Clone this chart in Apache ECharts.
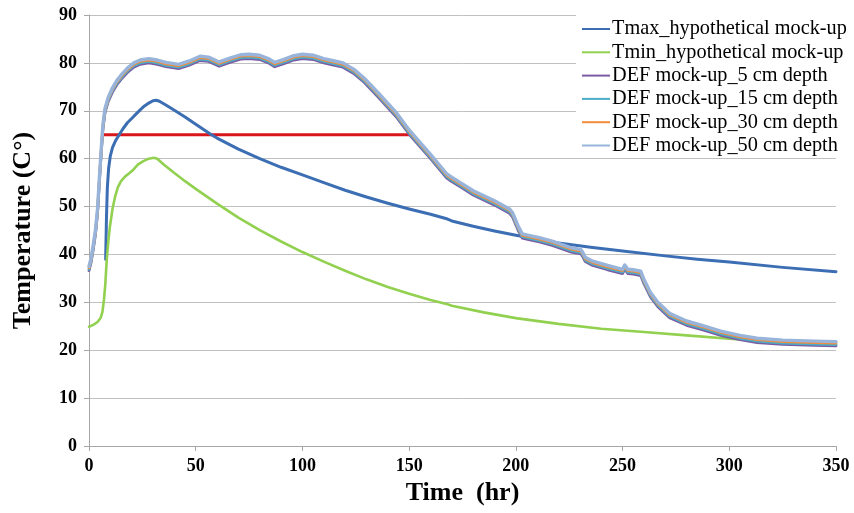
<!DOCTYPE html>
<html>
<head>
<meta charset="utf-8">
<script src="https://cdn.jsdelivr.net/npm/echarts@6/dist/echarts.min.js"></script>
<style>html,body{margin:0;padding:0;background:#fff}#c{width:854px;height:513px}</style>
</head>
<body>
<div id="c"></div>
<script>
// ---- data ----
const xTicks = [0, 50, 100, 150, 200, 250, 300, 350];
const yTicks = [0, 10, 20, 30, 40, 50, 60, 70, 80, 90];

const tmaxTime = [7.8,8.2,8.6,9.2,10,11,12.5,14,16,18,20,22,24,26,28,30,31.5,33,36,40,45,50,57,60,70,80,90,100,110,120,130,140,150,160,168,170,180,190,200,210,220,235,250,270,285,300,325,350];
const tmaxVal  = [39,48,54,58,60.6,62.3,63.8,64.9,66.3,67.5,68.4,69.3,70.2,71,71.6,72.1,72.2,72,71.2,70.1,68.7,67.2,65.1,64.3,62,60,58.2,56.6,55,53.4,52,50.7,49.5,48.4,47.4,47,45.9,44.9,44,43.2,42.4,41.5,40.7,39.7,39,38.4,37.3,36.4];

const tminTime = [0,2,4,5.5,6.3,7,7.6,8.3,9,9.8,11,12.2,13.5,15,17,19,21,23,25.5,28,30.5,32,35,40,45,50,60,70,80,90,100,110,120,130,140,150,160,168,170,185,200,220,240,260,280,300,325,350];
const tminVal  = [24.9,25.3,25.9,26.8,28,30.5,33.5,38.8,42.5,45.8,49.5,52,54,55.3,56.3,57,57.8,58.8,59.5,60,60.2,60,58.8,57,55.3,53.7,50.6,47.7,45.1,42.7,40.5,38.5,36.6,34.8,33.2,31.8,30.5,29.6,29.3,27.9,26.7,25.5,24.5,23.8,23.1,22.4,21.7,21.1];

const defTime = [0,1,2,3,4,5,5.8,6.5,7.5,9,11,13,15.5,18,21,24,28,32,36,42,47,52,56,61,66,71,75,80,84,87,91,96,100,105,110,114,119,124,129,136,144,150,160,167.5,169,174,180,190,197,198.5,201,203,206,211,217,222,226,230.5,231.5,232.5,236,243,250,251,252.5,255,258.5,260,263,266.5,272,280,288,296,305,313,325,340,350];
const def5  = [36.6,38.4,41.1,44.1,48.6,56.1,61.6,66.1,69.6,71.9,73.9,75.4,76.8,78,79.1,79.7,80,79.7,79.2,78.8,79.5,80.5,80.3,79.3,80.1,80.8,80.9,80.7,80,79.2,79.8,80.6,80.9,80.7,80,79.6,79.1,77.8,75.9,72.6,68.7,65.1,60,56,55.5,54.1,52.4,50.3,48.6,47.8,45.1,43.4,43.1,42.6,41.9,41.1,40.5,40.1,39.4,38.5,37.7,36.8,36,36.9,36,35.9,35.6,33.9,31.2,29.1,26.8,25.2,24.2,23.1,22.2,21.6,21.2,21,20.9];
const def15 = [36.9,38.7,41.4,44.4,48.9,56.4,61.9,66.4,69.9,72.2,74.2,75.7,77.1,78.3,79.4,80,80.3,80,79.5,79.1,79.8,80.8,80.6,79.6,80.4,81.1,81.2,81,80.3,79.5,80.1,80.9,81.2,81,80.3,79.9,79.4,78.1,76.2,72.9,69,65.4,60.3,56.3,55.8,54.4,52.7,50.6,48.9,48.1,45.4,43.7,43.4,42.9,42.2,41.4,40.8,40.4,39.7,38.8,38,37.1,36.3,37.2,36.3,36.2,35.9,34.2,31.5,29.4,27.1,25.5,24.5,23.4,22.5,21.9,21.5,21.3,21.2];
const def30 = [37.2,39,41.7,44.7,49.2,56.7,62.2,66.7,70.2,72.5,74.5,76,77.4,78.6,79.7,80.3,80.6,80.3,79.8,79.4,80.1,81.1,80.9,79.9,80.7,81.4,81.5,81.3,80.6,79.8,80.4,81.2,81.5,81.3,80.6,80.2,79.7,78.4,76.5,73.2,69.3,65.7,60.6,56.6,56.1,54.7,53,50.9,49.2,48.4,45.7,44,43.7,43.2,42.5,41.7,41.1,40.7,40,39.1,38.3,37.4,36.6,37.5,36.6,36.5,36.2,34.5,31.8,29.7,27.4,25.8,24.8,23.7,22.8,22.2,21.8,21.6,21.5];
const def50 = [37.5,39.3,42,45,49.5,57,62.5,67,70.5,72.8,74.8,76.3,77.7,78.9,80,80.6,80.9,80.6,80.1,79.7,80.4,81.4,81.2,80.2,81,81.7,81.8,81.6,80.9,80.1,80.7,81.5,81.8,81.6,80.9,80.5,80,78.7,76.8,73.5,69.6,66,60.9,56.9,56.4,55,53.3,51.2,49.5,48.7,46,44.3,44,43.5,42.8,42,41.4,41,40.3,39.4,38.6,37.7,36.9,37.8,36.9,36.8,36.5,34.8,32.1,30,27.7,26.1,25.1,24,23.1,22.5,22.1,21.9,21.8];

const limitTime = [6.5, 150];
const limitVal  = [65, 65];

const names = ['Tmax_hypothetical mock-up','Tmin_hypothetical mock-up','DEF mock-up_5 cm depth','DEF mock-up_15 cm depth','DEF mock-up_30 cm depth','DEF mock-up_50 cm depth'];

// ---- chart ----
const zip = (a, b) => a.map((t, i) => [t, b[i]]);
const FONT = 'Liberation Serif';
const line = (name, t, v, color, width, z) => ({
  name, type: 'line', data: zip(t, v), showSymbol: false, symbol: 'none',
  lineStyle: { color, width, cap: 'round', join: 'round' }, itemStyle: { color },
  z: z, animation: false, smooth: false
});

const chart = echarts.init(document.getElementById('c'), null, { renderer: 'canvas' });
chart.setOption({
  backgroundColor: '#fff',
  animation: false,
  textStyle: { fontFamily: FONT },
  grid: { left: 89, right: 18, top: 15, bottom: 67, containLabel: false },
  xAxis: {
    type: 'value', min: 0, max: 350, interval: 50,
    name: 'Time  (hr)', nameLocation: 'middle', nameGap: 33,
    nameTextStyle: { fontFamily: FONT, fontWeight: 'bold', fontSize: 26, color: '#000' },
    axisLine: { show: true, lineStyle: { color: '#A6A6A6', width: 1 } },
    axisTick: { show: true, length: 5, lineStyle: { color: '#A6A6A6' } },
    axisLabel: { fontFamily: FONT, fontWeight: 'bold', fontSize: 18, color: '#000', margin: 11,
                 formatter: v => xTicks.includes(v) ? String(v) : '' },
    splitLine: { show: false }
  },
  yAxis: {
    type: 'value', min: 0, max: 90, interval: 10,
    name: 'Temperature (C°)', nameLocation: 'middle', nameGap: 53, nameRotate: 90,
    nameTextStyle: { fontFamily: FONT, fontWeight: 'bold', fontSize: 26, color: '#000' },
    axisLine: { show: true, lineStyle: { color: '#A6A6A6', width: 1 } },
    axisTick: { show: true, length: 5, lineStyle: { color: '#A6A6A6' } },
    axisLabel: { fontFamily: FONT, fontWeight: 'bold', fontSize: 18, color: '#000', margin: 12,
                 formatter: v => yTicks.includes(v) ? String(v) : '' },
    splitLine: { show: true, lineStyle: { color: '#C0C0C0', width: 1 } }
  },
  legend: {
    data: names, orient: 'vertical', left: 576, top: 0,
    padding: [19, 4, 2, 6], itemGap: 3.3, itemWidth: 28, itemHeight: 20,
    backgroundColor: '#fff', icon: 'path://M0,9 L28,9 L28,11 L0,11 Z',
    textStyle: { fontFamily: FONT, fontSize: 20.3, color: '#000', padding: [0, 0, 0, -3] },
    z: 10
  },
  series: [
    line(names[0], tmaxTime, tmaxVal, '#3C6EB4', 3, 3),
    line(names[1], tminTime, tminVal, '#92D050', 2.6, 3),
    line(names[2], defTime, def5, '#7B5BA4', 2.8, 4),
    line(names[3], defTime, def15, '#4BACC6', 2.8, 4),
    line(names[4], defTime, def30, '#F28C3C', 2.8, 4),
    line(names[5], defTime, def50, '#98B4DA', 3.4, 4),
    { name: 'limit', type: 'line', data: zip(limitTime, limitVal), showSymbol: false, symbol: 'none',
      lineStyle: { color: '#D8161B', width: 3 }, z: 2, animation: false }
  ]
});
</script>
</body>
</html>
